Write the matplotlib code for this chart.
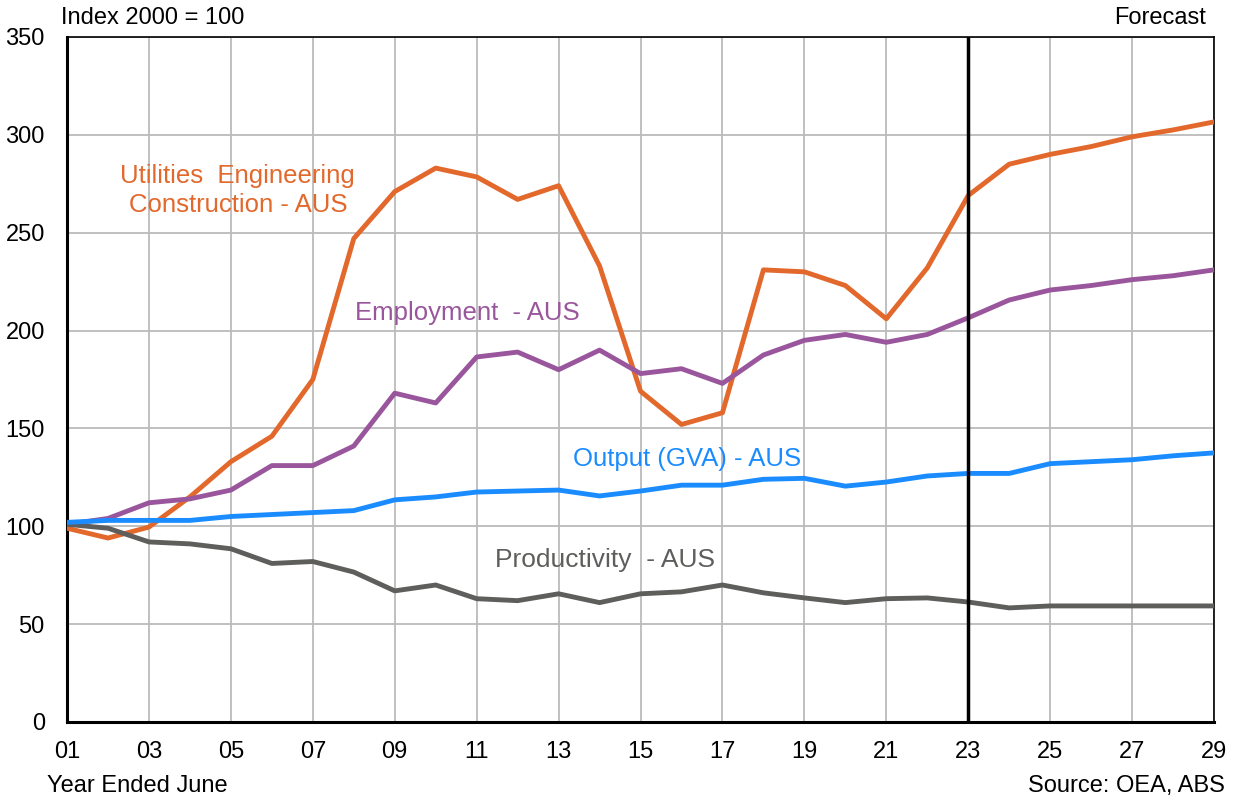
import numpy as np
import matplotlib.pyplot as plt

plt.rcParams['font.family'] = ['Liberation Sans', 'DejaVu Sans']

years = np.arange(1, 30)
year_labels = ['%02d' % y for y in years]

utilities = [99, 94, 99.6, 115, 133, 146, 175, 247, 271, 283, 278.5, 267, 274, 233, 169,
             152, 158, 231, 230, 223, 206, 232, 269, 285, 290, 294, 299, 302.5, 306.6]
employment = [101, 104, 112, 114, 118.5, 131, 131, 141, 168, 163, 186.5, 189, 180, 190, 178,
              180.5, 173, 187.5, 195, 198, 194, 198, 206.5, 215.6, 220.7, 223, 226, 228, 231]
output = [102, 103, 103, 103, 105, 106, 107, 108, 113.5, 115, 117.5, 118, 118.5, 115.5, 118,
          121, 121, 124, 124.5, 120.5, 122.6, 125.7, 127, 127, 132, 133, 134, 136, 137.5]
productivity = [101, 99, 92, 91, 88.5, 81, 82, 76.6, 67, 70, 63, 62, 65.5, 61, 65.5,
                66.5, 70, 66, 63.4, 61, 63, 63.4, 61.3, 58.3, 59.3, 59.3, 59.3, 59.3, 59.3]

fig = plt.figure(figsize=(12.37, 8.0), dpi=100)
ax = fig.add_axes([0.0542, 0.0975, 0.9272, 0.8563])

ax.plot(years, utilities, color='#E2682C', lw=3.5, zorder=3)
ax.plot(years, employment, color='#9A569C', lw=3.5, zorder=3)
ax.plot(years, output, color='#1A8CFF', lw=3.5, zorder=4)
ax.plot(years, productivity, color='#5E5E5C', lw=3.5, zorder=3)

ax.axvline(23, color='black', lw=2.5, zorder=5)

ax.set_xlim(1, 29)
ax.set_ylim(0, 350)
ax.set_xticks(years[::2])
ax.set_xticklabels(year_labels[::2])
ax.set_yticks(np.arange(0, 351, 50))
ax.grid(True, color='#BBBBBB', lw=1.3)
ax.set_axisbelow(True)
ax.tick_params(length=0, labelsize=17)
ax.tick_params(axis='x', pad=14)
ax.tick_params(axis='y', pad=16)
for s in ['left', 'bottom']:
    ax.spines[s].set_linewidth(2.2)
for s in ['top', 'right']:
    ax.spines[s].set_linewidth(1.2)

ax.text(5.17, 271.6, 'Utilities  Engineering\nConstruction - AUS', color='#E2682C',
        fontsize=18.5, ha='center', va='center', linespacing=1.25)
ax.text(10.77, 209, 'Employment  - AUS', color='#9A569C', fontsize=18.5, ha='center', va='center')
ax.text(16.14, 134.4, 'Output (GVA) - AUS', color='#1A8CFF', fontsize=18.5, ha='center', va='center')
ax.text(14.13, 82.8, 'Productivity  - AUS', color='#5E5E5C', fontsize=19, ha='center', va='center')

fig.text(0.049, 0.977, 'Index 2000 = 100', fontsize=17, ha='left', va='center')
fig.text(0.975, 0.977, 'Forecast', fontsize=17, ha='right', va='center')
fig.text(0.038, 0.018, 'Year Ended June', fontsize=17, ha='left', va='center')
fig.text(0.99, 0.018, 'Source: OEA, ABS', fontsize=17, ha='right', va='center')

fig.savefig('out.png', dpi=100)
